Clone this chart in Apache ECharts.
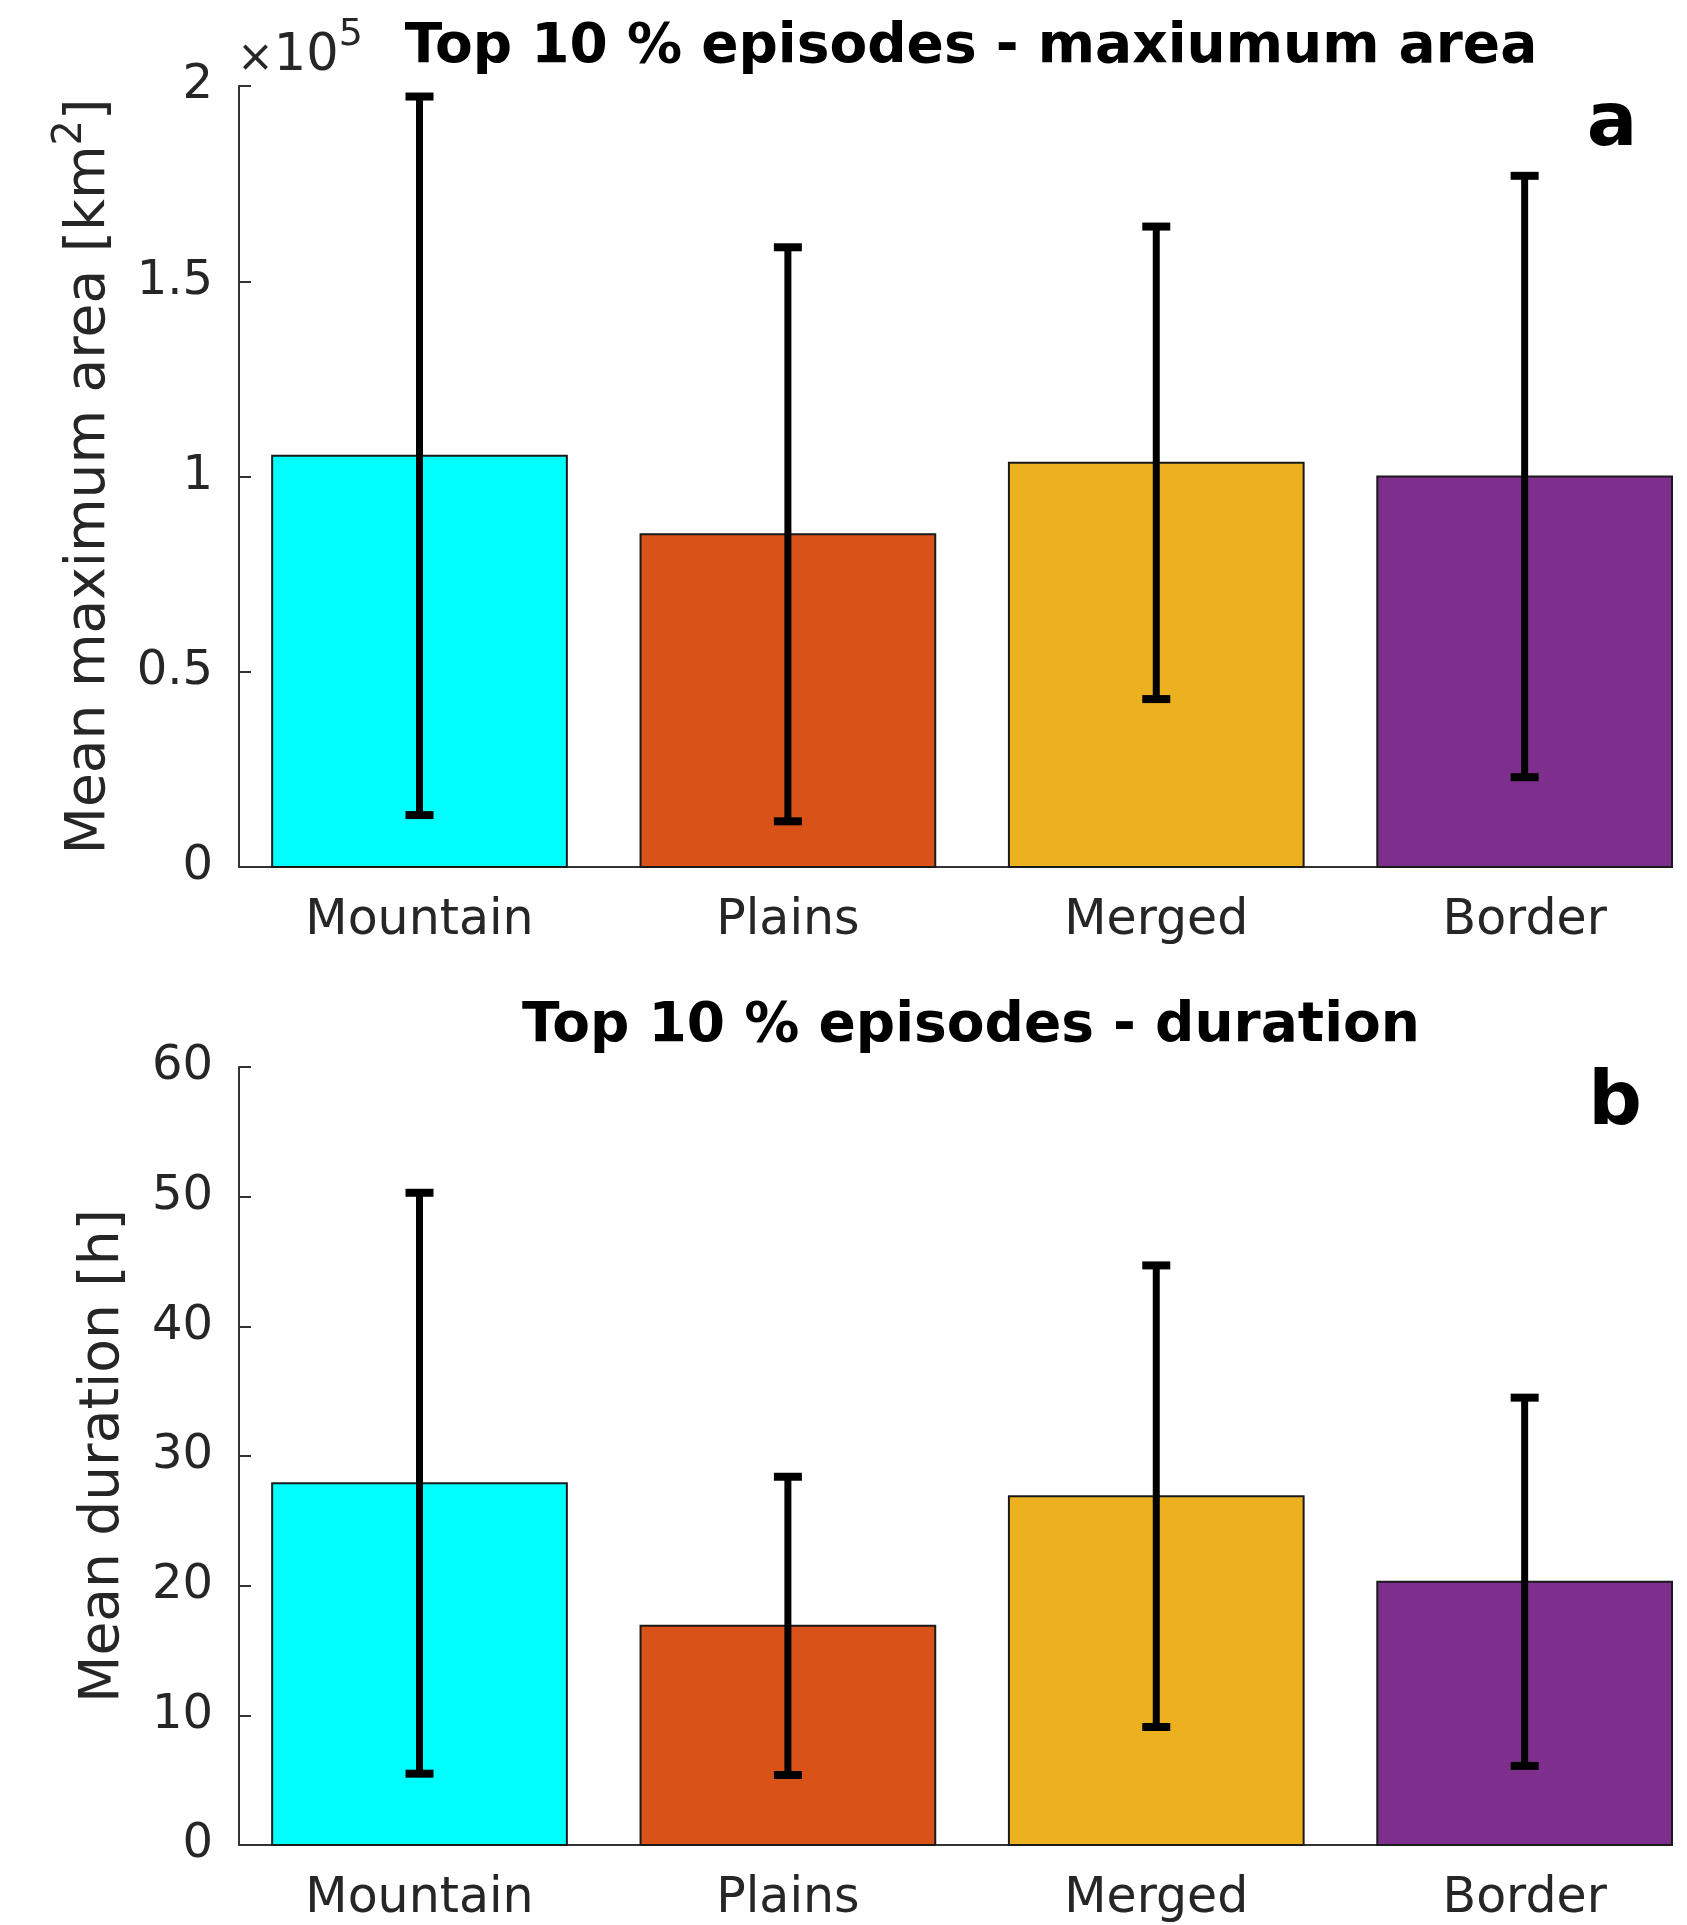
<!DOCTYPE html>
<html>
<head>
<meta charset="utf-8">
<script src="https://cdn.jsdelivr.net/npm/echarts@6/dist/echarts.min.js"></script>
<style>html,body{margin:0;padding:0;background:#fff}#c{width:1687px;height:1925px}</style>
</head>
<body>
<div id="c"></div>
<script>
const categories = ['Mountain', 'Plains', 'Merged', 'Border'];
const barColors = ['#00FFFF', '#D95319', '#EDB120', '#7E2F8E'];
// Panel a: mean maximum area [km^2] and spread
const areaMean = [105300, 85200, 103500, 100000];
const areaStd  = [92000, 73500, 60500, 77000];
// Panel b: mean duration [h] and spread
const durMean = [27.9, 16.9, 26.9, 20.3];
const durStd  = [22.4, 11.5, 17.8, 14.2];

const FONT = 'DejaVu Sans';
const AX = '#333333';
const barWidth = 0.8;

function buildData(mean, std) {
  return mean.map((m, i) => [i + 1, m, std[i], i]);
}

function renderItem(params, api) {
  const x = api.value(0), y = api.value(1), s = api.value(2), ci = api.value(3);
  const p0 = api.coord([x - barWidth / 2, y]);
  const p1 = api.coord([x + barWidth / 2, 0]);
  const top = api.coord([x, y + s]);
  const bot = api.coord([x, y - s]);
  const cap = 14;
  return {
    type: 'group',
    children: [
      { type: 'rect', shape: { x: p0[0], y: p0[1], width: p1[0] - p0[0], height: p1[1] - p0[1] },
        style: { fill: barColors[ci], stroke: '#1a1a1a', lineWidth: 2 } },
      { type: 'line', shape: { x1: top[0], y1: top[1], x2: bot[0], y2: bot[1] },
        style: { stroke: '#000', lineWidth: 7 } },
      { type: 'line', shape: { x1: top[0] - cap, y1: top[1], x2: top[0] + cap, y2: top[1] },
        style: { stroke: '#000', lineWidth: 8 } },
      { type: 'line', shape: { x1: bot[0] - cap, y1: bot[1], x2: bot[0] + cap, y2: bot[1] },
        style: { stroke: '#000', lineWidth: 8 } }
    ]
  };
}

function xAxisDef(gi) {
  return {
    type: 'value', gridIndex: gi, min: 0.51, max: 4.4,
    axisLine: { show: true, lineStyle: { color: AX, width: 2 } },
    axisTick: { show: false },
    splitLine: { show: false },
    axisLabel: {
      customValues: [1, 2, 3, 4],
      formatter: v => categories[Math.round(v) - 1] || '',
      fontFamily: FONT, fontSize: 49, color: '#262626', margin: 30
    }
  };
}

const chart = echarts.init(document.getElementById('c'), null, { renderer: 'canvas' });
chart.setOption({
  backgroundColor: '#fff',
  animation: false,
  grid: [
    { left: 239, top: 86, width: 1433, height: 781 },
    { left: 239, top: 1067, width: 1433, height: 778 }
  ],
  xAxis: [xAxisDef(0), xAxisDef(1)],
  yAxis: [
    {
      type: 'value', gridIndex: 0, min: 0, max: 200000, interval: 50000,
      axisLine: { show: true, lineStyle: { color: AX, width: 2 } },
      axisTick: { show: true, inside: true, length: 12, lineStyle: { color: AX, width: 2 } },
      splitLine: { show: false },
      axisLabel: { formatter: v => String(v / 100000), fontFamily: FONT, fontSize: 48, color: '#262626', margin: 26 },
      name: '{n|Mean maximum area [km}{s|2}{n|]}',
      nameLocation: 'middle', nameGap: 122, nameRotate: 90,
      nameTextStyle: {
        rich: {
          n: { fontFamily: FONT, fontSize: 55, color: '#262626', verticalAlign: 'bottom', lineHeight: 66 },
          s: { fontFamily: FONT, fontSize: 40, color: '#262626', verticalAlign: 'top', lineHeight: 66 }
        }
      }
    },
    {
      type: 'value', gridIndex: 1, min: 0, max: 60, interval: 10,
      axisLine: { show: true, lineStyle: { color: AX, width: 2 } },
      axisTick: { show: true, inside: true, length: 12, lineStyle: { color: AX, width: 2 } },
      splitLine: { show: false },
      axisLabel: { fontFamily: FONT, fontSize: 48, color: '#262626', margin: 26 },
      name: 'Mean duration [h]',
      nameLocation: 'middle', nameGap: 108, nameRotate: 90,
      nameTextStyle: { fontFamily: FONT, fontSize: 55, color: '#262626' }
    }
  ],
  series: [
    { type: 'custom', xAxisIndex: 0, yAxisIndex: 0, renderItem, data: buildData(areaMean, areaStd), clip: false },
    { type: 'custom', xAxisIndex: 1, yAxisIndex: 1, renderItem, data: buildData(durMean, durStd), clip: false }
  ],
  graphic: [
    { type: 'text', x: 971, y: 48, style: { text: 'Top 10 % episodes - maxiumum area', fontFamily: FONT, fontWeight: 'bold', fontSize: 55, fill: '#000', align: 'center', verticalAlign: 'middle' } },
    { type: 'text', x: 971, y: 1027, style: { text: 'Top 10 % episodes - duration', fontFamily: FONT, fontWeight: 'bold', fontSize: 55, fill: '#000', align: 'center', verticalAlign: 'middle' } },
    { type: 'text', x: 1612, y: 126, style: { text: 'a', fontFamily: FONT, fontWeight: 'bold', fontSize: 75, fill: '#000', align: 'center', verticalAlign: 'middle' } },
    { type: 'text', x: 1615, y: 1105, style: { text: 'b', fontFamily: FONT, fontWeight: 'bold', fontSize: 75, fill: '#000', align: 'center', verticalAlign: 'middle' } },
    { type: 'text', x: 237, y: 82, style: {
        text: '{x|×}{a|10}{b|5}', align: 'left', verticalAlign: 'bottom',
        rich: {
          x: { fontFamily: FONT, fontSize: 44, fill: '#262626', color: '#262626', verticalAlign: 'bottom', lineHeight: 66 },
          a: { fontFamily: FONT, fontSize: 51, fill: '#262626', color: '#262626', verticalAlign: 'bottom', lineHeight: 66 },
          b: { fontFamily: FONT, fontSize: 38, fill: '#262626', color: '#262626', verticalAlign: 'top', lineHeight: 66 }
        } } }
  ]
});
</script>
</body>
</html>
